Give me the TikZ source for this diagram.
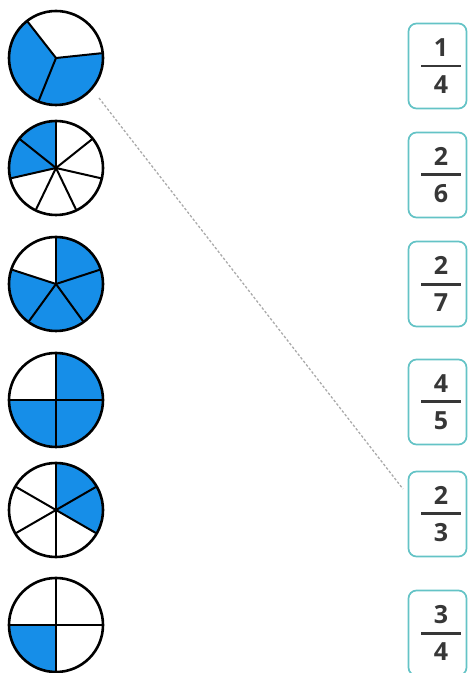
\documentclass[tikz,border=0pt]{standalone}
\usepackage{fontspec}
\setmainfont{Open Sans}
\definecolor{pieblue}{RGB}{22,142,232}
\definecolor{boxteal}{RGB}{100,195,198}
\definecolor{numgray}{RGB}{55,55,55}
\definecolor{dashgray}{RGB}{170,170,170}
\pgfdeclarelayer{bg}
\pgfsetlayers{bg,main}
\newcommand{\fracstack}[2]{\kern7pt\vbox{\hbox to 40pt{\hss #1\hss}\kern8pt\hrule height 2.8pt\kern8pt\hbox to 40pt{\hss #2\hss}}}
\newcommand{\piesector}[3]{\begin{pgfonlayer}{bg}\fill[pieblue] (#1) -- ++(#2:47) arc (#2:#3:47) -- cycle;\end{pgfonlayer}}
\newcommand{\piespokes}[2]{\foreach \a in {#2} {\draw[spoke] (#1) -- ++(\a:46);}}
\begin{document}
\begin{tikzpicture}[x=1pt,y=1pt,
  pie/.style={circle, draw=black, line width=2.6pt, minimum size=94pt, inner sep=0pt},
  spoke/.style={draw=black, line width=2pt},
  fracbox/.style={draw=boxteal, line width=1.7pt, rounded corners=8pt, minimum width=58pt, minimum height=85pt, inner sep=0pt, text=numgray, font=\fontsize{25}{25}\selectfont\bfseries},
  dashline/.style={draw=dashgray, line width=1.3pt, dash pattern=on 2.5pt off 2pt}]
\useasboundingbox (0,0) rectangle (468,673);
% pies
\node[pie] (c1) at (56,615) {};
\node[pie] (c2) at (56,505) {};
\node[pie] (c3) at (56,389) {};
\node[pie] (c4) at (56,273) {};
\node[pie] (c5) at (56,163) {};
\node[pie] (c6) at (56,48) {};
% pie 1: 2/3
\piesector{c1.center}{128}{366}
\piespokes{c1.center}{128,6,248}
% pie 2: 2/7
\piesector{c2.center}{90}{192.86}
\piespokes{c2.center}{90,38.57,-12.86,-64.29,-115.71,192.86,141.43}
% pie 3: 4/5
\piesector{c3.center}{162}{450}
\piespokes{c3.center}{90,18,-54,-126,162}
% pie 4: 3/4
\piesector{c4.center}{180}{450}
\piespokes{c4.center}{0,90,180,270}
% pie 5: 2/6
\piesector{c5.center}{-30}{90}
\piespokes{c5.center}{90,30,-30,-90,-150,150}
% pie 6: 1/4
\piesector{c6.center}{180}{270}
\piespokes{c6.center}{0,90,180,270}
% fraction boxes
\node[fracbox] (f1) at (437.5,607) {\fracstack{1}{4}};
\node[fracbox] (f2) at (437.5,498) {\fracstack{2}{6}};
\node[fracbox] (f3) at (437.5,389) {\fracstack{2}{7}};
\node[fracbox] (f4) at (437.5,271) {\fracstack{4}{5}};
\node[fracbox] (f5) at (437.5,159) {\fracstack{2}{3}};
\node[fracbox] (f6) at (437.5,40) {\fracstack{3}{4}};
% connector
\coordinate (ds) at (99,575);
\coordinate (de) at (403,184);
\draw[dashline] (ds) -- (de);
\end{tikzpicture}
\end{document}
